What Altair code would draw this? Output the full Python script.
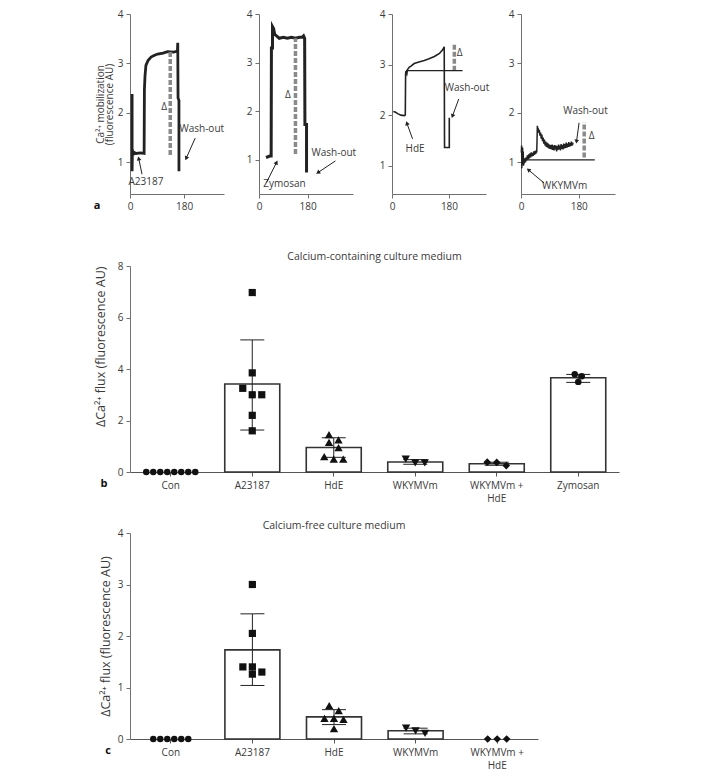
import math
import altair as alt
import pandas as pd

FONT = "Open Sans"
INK = "#222222"
TXT = "#3a3a3a"
AX = "#707070"

# ---------------- panel a : Ca2+ traces (time s, fluorescence AU) ----------------
a1_t = [7, 7, 8, 12, 14, 20, 35, 47, 48, 50, 53, 60, 70, 80, 92, 110, 125, 145, 158, 159, 160, 163, 163]
a1_v = [2.38, 0.82, 1.25, 1.15, 1.2, 1.18, 1.19, 1.18, 2.48, 2.75, 2.96, 3.06, 3.13, 3.16, 3.19, 3.21, 3.24,
        3.23, 3.25, 3.42, 2.3, 2.25, 0.82]

a2_t = [26, 40, 45, 46, 50, 50, 54, 58, 65, 75, 90, 105, 120, 135, 150, 160, 165, 169, 170, 176, 176]
a2_v = [1.05, 1.08, 1.08, 3.3, 3.3, 3.74, 3.7, 3.58, 3.55, 3.5, 3.52, 3.5, 3.52, 3.5, 3.52, 3.52, 3.55, 3.5,
        1.73, 1.73, 0.74]

a3_t = [4, 10, 18, 28, 39, 42, 43, 44, 47, 49, 55, 60, 70, 85, 102, 115, 134, 150, 160, 165, 166, 181, 181]
a3_v = [2.07, 2.06, 2.03, 2.0, 1.99, 2.0, 2.81, 2.87, 2.82, 2.9, 2.95, 2.97, 3.02, 3.05, 3.08, 3.11, 3.16,
        3.22, 3.29, 3.35, 1.36, 1.36, 1.95]

a4_t = [1, 2, 2.5, 3, 4, 5, 6, 7, 8, 9, 10, 12, 14, 16, 18, 20, 22, 24, 26, 28, 30, 32, 34, 36, 38, 40, 42,
        44, 46, 48, 49, 50, 51, 52, 53, 55, 57, 59, 61, 63, 65, 67, 69, 71, 73, 75, 77, 79, 81, 83, 85, 87,
        89, 91, 93, 95, 97, 99, 101, 103, 105, 107, 109, 111, 113, 115, 117, 119, 121, 123, 125, 127, 129,
        131, 133, 135, 137, 139, 141, 143, 145, 147, 149, 151, 153, 155, 157, 159, 161, 162]
a4_v = [1.2, 1.34, 0.88, 1.28, 0.95, 1.3, 1.0, 1.22, 0.93, 1.05, 0.98, 1.08, 1.0, 1.1, 1.04, 1.14, 1.06,
        1.16, 1.08, 1.18, 1.1, 1.2, 1.12, 1.19, 1.13, 1.22, 1.15, 1.23, 1.17, 1.24, 1.2, 1.45, 1.74, 1.62,
        1.7, 1.6, 1.66, 1.54, 1.6, 1.48, 1.56, 1.43, 1.5, 1.38, 1.46, 1.34, 1.42, 1.31, 1.4, 1.3, 1.38, 1.28,
        1.36, 1.27, 1.35, 1.26, 1.36, 1.25, 1.34, 1.24, 1.35, 1.26, 1.34, 1.22, 1.33, 1.25, 1.36, 1.26, 1.34,
        1.24, 1.37, 1.27, 1.35, 1.26, 1.38, 1.28, 1.37, 1.29, 1.4, 1.3, 1.38, 1.31, 1.41, 1.32, 1.39, 1.33,
        1.42, 1.34, 1.4, 1.36]

# delta markers (time, low, high) and baselines (t0, t1, level)
a_dash_t = [134, 135, 197, 197]
a_dash_lo = [1.15, 1.12, 2.88, 1.10]
a_dash_hi = [3.25, 3.5, 3.41, 1.81]
a3_base = [44, 223, 2.88]
a4_base = [10, 230, 1.05]

# annotation labels
a1_lab = ["A23187", "Wash-out", "Δ"]; a1_lab_t = [53, 239, 114]; a1_lab_v = [0.60, 1.67, 2.11]
a2_lab = ["Zymosan", "Wash-out", "Δ"]; a2_lab_t = [94, 277, 107]; a2_lab_v = [0.50, 1.15, 2.34]
a3_lab = ["HdE", "Wash-out", "Δ"]; a3_lab_t = [73, 237, 214]; a3_lab_v = [1.33, 2.53, 3.23]
a4_lab = ["WKYMVm", "Wash-out", "Δ"]; a4_lab_t = [136, 201, 220]; a4_lab_v = [0.53, 2.04, 1.54]

# arrows: tail (t0, v0) -> head (t1, v1)
a1_arr = [[40, 0.76, 29, 1.08], [217, 1.49, 187, 1.08]]
a2_arr = [[28, 0.54, 65, 0.95], [283, 0.98, 218, 0.74]]
a3_arr = [[65, 1.53, 47, 1.84], [211, 2.32, 191, 1.98]]
a4_arr = [[72, 0.58, 23, 0.85], [181, 1.80, 173, 1.42]]

# ---------------- panel b / c : bar charts ----------------
b_cats = ["Con", "A23187", "HdE", "WKYMVm", "WKYMVm + HdE", "Zymosan"]
b_mean = [0, 3.42, 0.95, 0.39, 0.32, 3.66]
b_lo = [0, 1.63, 0.57, 0.30, 0.26, 3.48]
b_hi = [0, 5.13, 1.33, 0.48, 0.38, 3.79]
b_pts = [
    [0, 0, 0, 0, 0, 0, 0, 0],
    [6.97, 3.85, 3.25, 3.0, 3.0, 2.2, 1.6],
    [1.45, 1.25, 1.15, 0.95, 0.6, 0.5, 0.5],
    [0.5, 0.35, 0.35],
    [0.38, 0.25, 0.37],
    [3.8, 3.72, 3.5],
]
shapes = ["circle", "square", "triangle-up", "triangle-down", "diamond", "circle"]

c_cats = ["Con", "A23187", "HdE", "WKYMVm", "WKYMVm + HdE"]
c_mean = [0, 1.73, 0.43, 0.16, 0]
c_lo = [0, 1.04, 0.28, 0.10, 0]
c_hi = [0, 2.43, 0.57, 0.21, 0]
c_pts = [
    [0, 0, 0, 0, 0, 0],
    [3.0, 2.05, 1.4, 1.4, 1.3, 1.26],
    [0.65, 0.55, 0.4, 0.4, 0.38, 0.2],
    [0.21, 0.11, 0.16],
    [0, 0, 0],
]

AW, AH = 94, 180
STEP = 81.5
PAD_IN = 0.33


def trace_panel(t, v, tmax, vmin, lw, dash_i, base, lab, lab_t, lab_v, arrows, ytitle=None, letter=None):
    xs = alt.Scale(domain=[0, tmax], nice=False, zero=False)
    ys = alt.Scale(domain=[vmin, 4], nice=False, zero=False)
    xax = alt.Axis(values=[0, 180], title=None, domainColor=AX, tickColor=AX, tickSize=4,
                   labelColor=TXT, labelFontSize=10, labelFont=FONT, labelPadding=3, labelFlush=False)
    if ytitle:
        yax = alt.Axis(values=[1, 2, 3, 4], title=ytitle, domainColor=AX, tickColor=AX, tickSize=4,
                       labelColor=TXT, labelFontSize=10, labelFont=FONT, labelPadding=3,
                       titleFont=FONT, titleFontSize=10, titleFontWeight="normal", titleColor=TXT,
                       titleLineHeight=9, titlePadding=3, labelFlush=False)
    else:
        yax = alt.Axis(values=[1, 2, 3, 4], title=None, domainColor=AX, tickColor=AX, tickSize=4,
                       labelColor=TXT, labelFontSize=10, labelFont=FONT, labelPadding=3, labelFlush=False)

    def X(f):
        return alt.X(f, type="quantitative", scale=xs, axis=xax)

    def Y(f):
        return alt.Y(f, type="quantitative", scale=ys, axis=yax)

    df = pd.DataFrame({"t": t, "v": v, "o": list(range(len(t)))})
    layers = []
    layers.append(alt.Chart(df).mark_line(color=INK, strokeWidth=lw, strokeJoin="miter", strokeCap="butt")
                  .encode(x=X("t"), y=Y("v"), order="o:Q"))
    ddf = pd.DataFrame({"t": [a_dash_t[dash_i]], "lo": [a_dash_lo[dash_i]], "hi": [a_dash_hi[dash_i]]})
    layers.append(alt.Chart(ddf).mark_rule(color="#8a8a8a", strokeWidth=3.5, strokeDash=[5, 2])
                  .encode(x=X("t"), y=Y("lo"), y2="hi"))
    if base:
        bdf = pd.DataFrame({"t0": [base[0]], "t1": [base[1]], "v": [base[2]]})
        layers.append(alt.Chart(bdf).mark_rule(color=INK, strokeWidth=1.2)
                      .encode(x=X("t0"), x2="t1", y=Y("v")))
    ldf = pd.DataFrame({"t": lab_t, "v": lab_v, "s": lab})
    layers.append(alt.Chart(ldf).mark_text(font=FONT, fontSize=10, color=TXT)
                  .encode(x=X("t"), y=Y("v"), text="s:N"))
    rows = []
    for t0, v0, t1, v1 in arrows:
        dx = (t1 - t0) / tmax * AW
        dy = -(v1 - v0) / (4 - vmin) * AH
        ang = math.degrees(math.atan2(dx, -dy)) % 360
        rows.append({"t0": t0, "v0": v0, "t1": t1, "v1": v1, "ang": ang})
    adf = pd.DataFrame(rows)
    layers.append(alt.Chart(adf).mark_rule(color=INK, strokeWidth=1)
                  .encode(x=X("t0"), y=Y("v0"), x2="t1", y2="v1"))
    layers.append(alt.Chart(adf).mark_point(shape="triangle-up", filled=True, size=22, color=INK, opacity=1)
                  .encode(x=X("t1"), y=Y("v1"), angle=alt.Angle("ang:Q", scale=None)))
    if letter:
        layers.append(alt.Chart(pd.DataFrame({"s": [letter]}))
                      .mark_text(font=FONT, fontSize=11, fontWeight="bold", color="#111")
                      .encode(x=alt.value(-33), y=alt.value(192), text="s:N"))
    return alt.layer(*layers).properties(width=AW, height=AH)


def jitter(vals, shape, ppu):
    step = 7.0 if shape == "circle" else 9.5
    order = sorted(range(len(vals)), key=lambda i: -vals[i])
    offs = [0.0] * len(vals)
    rows = []
    for i in order:
        if rows and (vals[rows[-1][0]] - vals[i]) * ppu < 6.5:
            rows[-1].append(i)
        else:
            rows.append([i])
    for r in rows:
        n = len(r)
        for k, i in enumerate(r):
            offs[i] = (k - (n - 1) / 2) * step
    return offs


def bar_panel(cats, mean, lo, hi, pts, ymax, yvals, title, letter, anchor, letter_x, title_off, ytitle_pad):
    H = 206
    W = round(STEP * len(cats))
    half_band = STEP * (1 - PAD_IN) / 2
    ppu = H / ymax
    xs = alt.Scale(domain=cats, paddingInner=PAD_IN, paddingOuter=PAD_IN / 2)
    ys = alt.Scale(domain=[0, ymax], nice=False)
    xax = alt.Axis(title=None, labelAngle=0, domainColor="#555", tickColor="#555", tickSize=4,
                   labelColor=TXT, labelFontSize=10, labelFont=FONT, labelPadding=4, labelLineHeight=13,
                   labelExpr="datum.value == 'WKYMVm + HdE' ? ['WKYMVm +', 'HdE'] : datum.label")
    yax = alt.Axis(values=yvals, title="ΔCa²⁺ flux (fluorescence AU)", domainColor=AX, tickColor=AX,
                   tickSize=4, labelColor=TXT, labelFontSize=10, labelFont=FONT, labelPadding=3,
                   titleFont=FONT, titleFontSize=12.5, titleFontWeight="normal", titleColor=TXT,
                   titlePadding=ytitle_pad, titleAnchor=anchor, labelFlush=False)

    def X():
        return alt.X("cat:N", scale=xs, axis=xax, sort=cats)

    def Y(f):
        return alt.Y(f, type="quantitative", scale=ys, axis=yax)

    bdf = pd.DataFrame({"cat": cats, "m": mean, "lo": lo, "hi": hi})
    bars = bdf[bdf["m"] > 0]
    errs = bdf[bdf["hi"] > bdf["lo"]]
    prow = []
    for c, vals, sh in zip(cats, pts, shapes):
        offs = jitter(vals, sh, ppu)
        for v, o in zip(vals, offs):
            prow.append({"cat": c, "v": v, "sh": sh, "off": o + half_band,
                         "sz": {"circle": 42, "square": 52, "triangle-up": 70,
                                "triangle-down": 70, "diamond": 60}[sh]})
    pdf = pd.DataFrame(prow)
    layers = [
        alt.Chart(bars).mark_bar(fill="white", stroke="#333", strokeWidth=1.6, width=55)
        .encode(x=X(), y=Y("m")),
        alt.Chart(errs).mark_rule(color="#222", strokeWidth=1).encode(x=X(), y=Y("lo"), y2="hi"),
        alt.Chart(errs).mark_tick(color="#222", thickness=1, size=24, opacity=1).encode(x=X(), y=Y("lo")),
        alt.Chart(errs).mark_tick(color="#222", thickness=1, size=24, opacity=1).encode(x=X(), y=Y("hi")),
        alt.Chart(pdf).mark_point(filled=True, color="#111", opacity=1)
        .encode(x=X(), y=Y("v"), xOffset=alt.XOffset("off:Q", scale=None),
                shape=alt.Shape("sh:N", scale=None), size=alt.Size("sz:Q", scale=None)),
        alt.Chart(pd.DataFrame({"s": [letter]}))
        .mark_text(font=FONT, fontSize=11, fontWeight="bold", color="#111")
        .encode(x=alt.value(letter_x), y=alt.value(H + 12), text="s:N"),
    ]
    return alt.layer(*layers).properties(
        width=W, height=H,
        title=alt.TitleParams(title, font=FONT, fontSize=10.5, fontWeight="normal", color=TXT,
                              offset=title_off))


p1 = trace_panel(a1_t, a1_v, 313, 0.36, 2.8, 0, None, a1_lab, a1_lab_t, a1_lab_v, a1_arr,
                 ytitle=["Ca²⁺ mobilization", "(fluorescence AU)"], letter="a")
p2 = trace_panel(a2_t, a2_v, 348, 0.30, 3.0, 1, None, a2_lab, a2_lab_t, a2_lab_v, a2_arr)
p3 = trace_panel(a3_t, a3_v, 297, 0.44, 1.6, 2, a3_base, a3_lab, a3_lab_t, a3_lab_v, a3_arr)
p4 = trace_panel(a4_t, a4_v, 293, 0.36, 1.5, 3, a4_base, a4_lab, a4_lab_t, a4_lab_v, a4_arr)

row_a = alt.hconcat(alt.hconcat(p1, p2, spacing=35, bounds="flush"),
                    alt.hconcat(p3, p4, spacing=35, bounds="flush"),
                    spacing=22)

pb = bar_panel(b_cats, b_mean, b_lo, b_hi, b_pts, 8, [0, 2, 4, 6, 8],
               "Calcium-containing culture medium", "b", "end", -26, -1, 10)
pc = bar_panel(c_cats, c_mean, c_lo, c_hi, c_pts, 4, [0, 1, 2, 3, 4],
               "Calcium-free culture medium", "c", "middle", -22, -3, 5)

chart = alt.vconcat(alt.vconcat(row_a, pb, spacing=40), pc, spacing=17) \
    .properties(padding={"left": 85, "top": 1, "right": 5, "bottom": 5}) \
    .configure_view(stroke=None) \
    .configure_axis(grid=False)

chart.save("out.html", embed_options={"renderer": "svg", "actions": False})
